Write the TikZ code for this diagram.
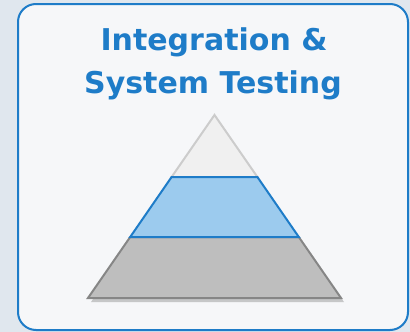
\documentclass[tikz,border=0pt]{standalone}
\usepackage{fontspec}
\setmainfont{DejaVu Sans}
\usetikzlibrary{shadows}
\definecolor{frameblue}{HTML}{1E7CC8}
\definecolor{bandblue}{HTML}{9CCBEE}
\definecolor{panelgray}{HTML}{F6F7F9}
\definecolor{backgray}{HTML}{E0E7EE}
\definecolor{topgray}{HTML}{F0F0F0}
\definecolor{basegray}{HTML}{BEBEBE}
\tikzset{
  titletext/.style={anchor=base, text=frameblue, font=\bfseries\fontsize{30}{36}\selectfont, inner sep=0pt},
  layer/.style={line width=2pt, line join=miter}
}
\begin{document}
\begin{tikzpicture}[x=1pt,y=-1pt]
  \fill[backgray] (0,0) rectangle (410,332);
  \draw[frameblue, line width=2pt, fill=panelgray, rounded corners=18pt] (18,4) rectangle (408,330);

  \node[titletext] (line1) at (214,50) {Integration \&};
  \node[titletext] (line2) at (213,93) {System Testing};

  % pyramid corners
  \coordinate (apex) at (214.5,115);
  \coordinate (tl) at (171.6,177);
  \coordinate (tr) at (257.4,177);
  \coordinate (ml) at (130.2,237);
  \coordinate (mr) at (298.8,237);
  \coordinate (bl) at (88,298);
  \coordinate (br) at (341,298);

  \fill[white, drop shadow={opacity=0.4, shadow xshift=3pt, shadow yshift=-4pt}] (apex) -- (br) -- (bl) -- cycle;
  \filldraw[layer, fill=basegray, draw=gray!95] (ml) -- (mr) -- (br) -- (bl) -- cycle;
  \filldraw[layer, fill=topgray, draw=gray!40] (apex) -- (tr) -- (tl) -- cycle;
  \filldraw[layer, fill=bandblue, draw=frameblue] (tl) -- (tr) -- (mr) -- (ml) -- cycle;
\end{tikzpicture}
\end{document}
